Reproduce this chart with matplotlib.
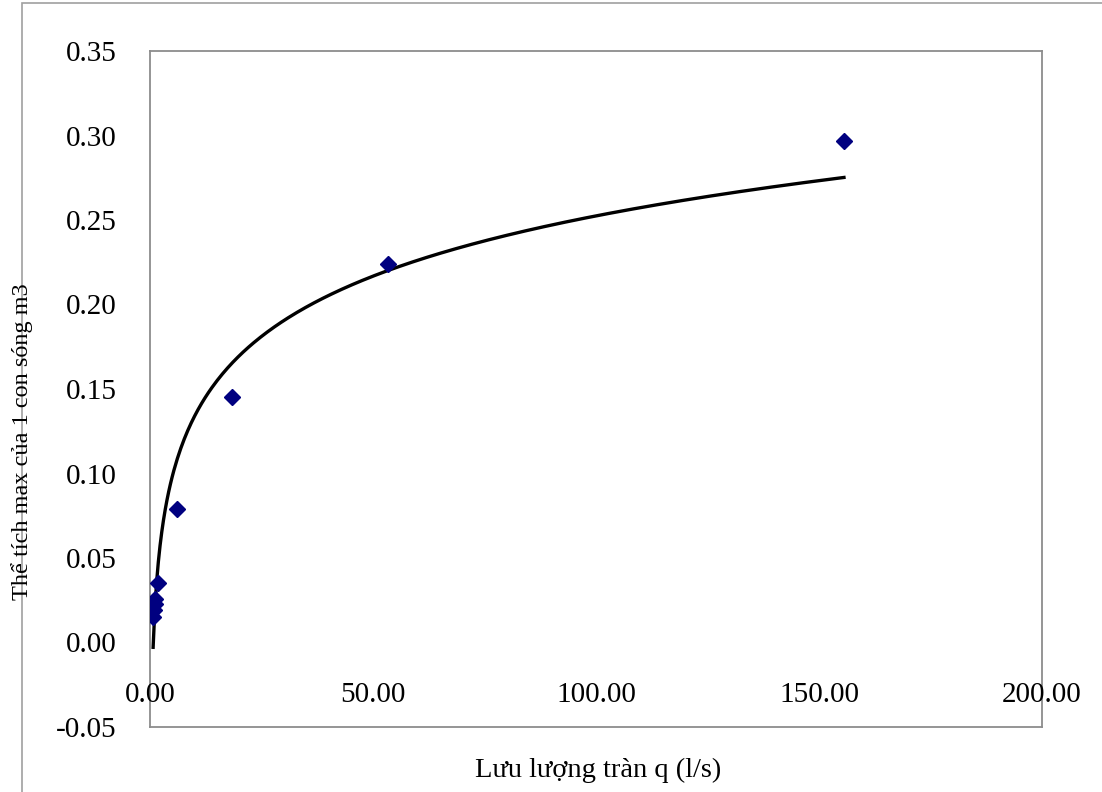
import numpy as np
import matplotlib.pyplot as plt
from matplotlib.patches import Rectangle
from matplotlib.transforms import offset_copy

# measured points (q in l/s, volume in m3)
q = np.array([0.7, 0.9, 1.1, 1.1, 1.8, 6.1, 18.4, 53.4, 155.6])
vol = np.array([0.015, 0.019, 0.023, 0.026, 0.035, 0.079, 0.145, 0.224, 0.297])

x_ticks = [0, 50, 100, 150, 200]
y_ticks = [-0.05, 0.0, 0.05, 0.10, 0.15, 0.20, 0.25, 0.30, 0.35]

plt.rcParams['font.family'] = ['Liberation Serif', 'DejaVu Serif']

W, H = 1102, 792
fig = plt.figure(figsize=(W / 100, H / 100), dpi=100)
ax = fig.add_axes([150 / W, 1 - 727 / H, (1042 - 150) / W, (727 - 51) / H])

# outer chart border
fig.patches.append(Rectangle((22 / W, -0.1), 1.2, 1 - 3 / H + 0.1,
                             transform=fig.transFigure, fill=False,
                             edgecolor='#a0a0a0', linewidth=1.2))

# logarithmic trendline (Excel style)
a, b = np.polyfit(np.log(q), vol, 1)
xx = np.linspace(q.min(), q.max(), 400)
ax.plot(xx, a * np.log(xx) + b, color='black', linewidth=2.4, zorder=2)

ax.plot(q, vol, linestyle='none', marker='D', markersize=8,
        color='#000080', zorder=3)

ax.set_xlim(0, 200)
ax.set_ylim(-0.05, 0.35)
ax.set_yticks(y_ticks)
ax.set_yticklabels([f'{v:.2f}' for v in y_ticks])
ax.tick_params(axis='y', length=0, pad=24, labelsize=21)
ax.set_xticks([])

for sp in ax.spines.values():
    sp.set_color('#8c8c8c')
    sp.set_linewidth(1.3)

# x labels sit under the zero line
tr = offset_copy(ax.transData, fig=fig, x=0, y=-40, units='dots')
for v in x_ticks:
    ax.text(v, 0, f'{v:.2f}', transform=tr, ha='center', va='top',
            fontsize=21, clip_on=False)

fig.text(598 / W, 1 - 770 / H, 'Lưu lượng tràn q (l/s)', ha='center',
         va='center', fontsize=20.5)
fig.text(22 / W, 1 - 442 / H, 'Thể tích max của 1 con sóng m3',
         ha='center', va='center', rotation=90, fontsize=17.5)

fig.savefig('out.png', dpi=100)
